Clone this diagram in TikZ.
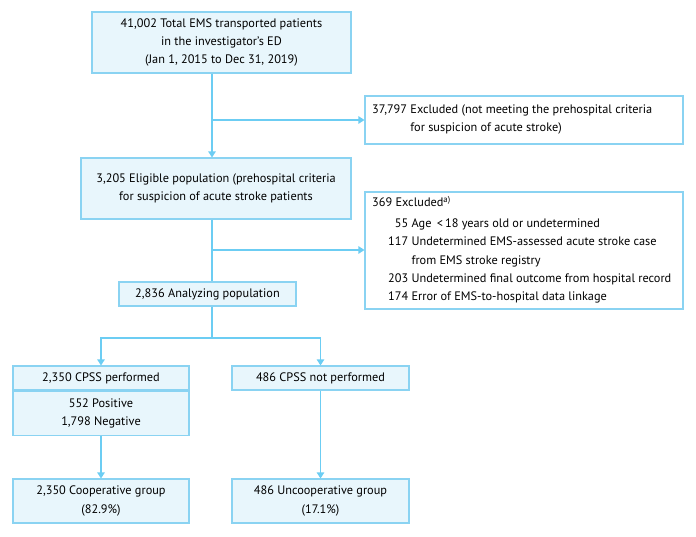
\documentclass[tikz,border=0pt]{standalone}
\usepackage{fontspec}
\setmainfont{PT Sans}
\usetikzlibrary{arrows.meta}
\definecolor{boxline}{HTML}{8AD3F2}
\definecolor{boxfill}{HTML}{E8F6FC}
\definecolor{flowline}{HTML}{6CCDF3}
\tikzset{
  box/.style={draw=boxline, fill=boxfill, line width=1.1pt, inner sep=0pt, align=center},
  exbox/.style={draw=boxline, fill=white, line width=1.1pt, inner sep=0pt},
  flow/.style={draw=flowline, line width=1.2pt, -{Triangle[length=6pt,width=7.5pt]}},
  link/.style={draw=flowline, line width=1.2pt},
}
\newcommand{\flowfont}{\fontsize{12.3}{18.3}\selectfont}
\begin{document}
\begin{tikzpicture}[x=1pt,y=-1pt,font=\flowfont]
\useasboundingbox (0,0) rectangle (696,537);

\coordinate (spine) at (212,0);

\node[box, minimum width=259pt, minimum height=61pt] (total) at (221.5,42.5)
  {41,002 Total EMS transported patients\\in the investigator's ED\\(Jan 1, 2015 to Dec 31, 2019)};
\node[box, minimum width=270pt, minimum height=61pt] (eligible) at (216,188.5)
  {3,205 Eligible population (prehospital criteria\\for suspicion of acute stroke patients};

\node[exbox, minimum width=318pt, minimum height=48pt] (excl1) at (524,120) {};
\node[anchor=west, inner sep=0pt] (excl1txt) at (372,119)
  {\begin{tabular}{@{}l@{\ }l@{}}37,797 & Excluded (not meeting the prehospital criteria\\ & for suspicion of acute stroke)\end{tabular}};

\node[exbox, minimum width=318pt, minimum height=117pt] (excl2) at (524,250.5) {};
\node[anchor=north west, inner sep=0pt] (excl2head) at (372,196) {369 Excluded\textsuperscript{a)}};
\node[anchor=north west, inner sep=0pt] (excl2txt) at (388,214.5)
  {\begin{tabular}{@{}r@{\ }l@{}}55 & Age \,\textless\,18 years old or undetermined\\
  117 & Undetermined EMS-assessed acute stroke case\\
      & from EMS stroke registry\\
  203 & Undetermined final outcome from hospital record\\
  174 & Error of EMS-to-hospital data linkage\end{tabular}};

\node[box, minimum width=177pt, minimum height=24pt] (analyzing) at (207.5,294) {2,836 Analyzing population};

\node[box, minimum width=176pt, minimum height=24pt] (performed) at (101,378) {2,350 CPSS performed};
\node[box, minimum width=176pt, minimum height=44pt, anchor=north] (results) at (performed.south) {552 Positive\\1,798 Negative};
\node[box, minimum width=177pt, minimum height=24pt] (notperformed) at (320.5,378) {486 CPSS not performed};

\node[box, minimum width=176pt, minimum height=44pt] (coop) at (101,501) {2,350 Cooperative group\\(82.9\%)};
\node[box, minimum width=177pt, minimum height=44pt] (uncoop) at (320.5,501) {486 Uncooperative group\\(17.1\%)};

\coordinate (split) at (212,338);

\draw[flow] (total.south -| spine) -- (eligible.north -| spine);
\draw[flow] (spine |- excl1.west) -- (excl1.west);
\draw[link] (eligible.south -| spine) -- (analyzing.north -| spine);
\draw[flow] (spine |- 0,250) -- (excl2.west |- 0,250);
\draw[link] (analyzing.south -| split) -- (split);
\draw[flow] (split) -| (performed.north);
\draw[flow] (split) -| (notperformed.north);
\draw[flow] (results.south) -- (coop.north);
\draw[flow] (notperformed.south) -- (uncoop.north);
\end{tikzpicture}
\end{document}
